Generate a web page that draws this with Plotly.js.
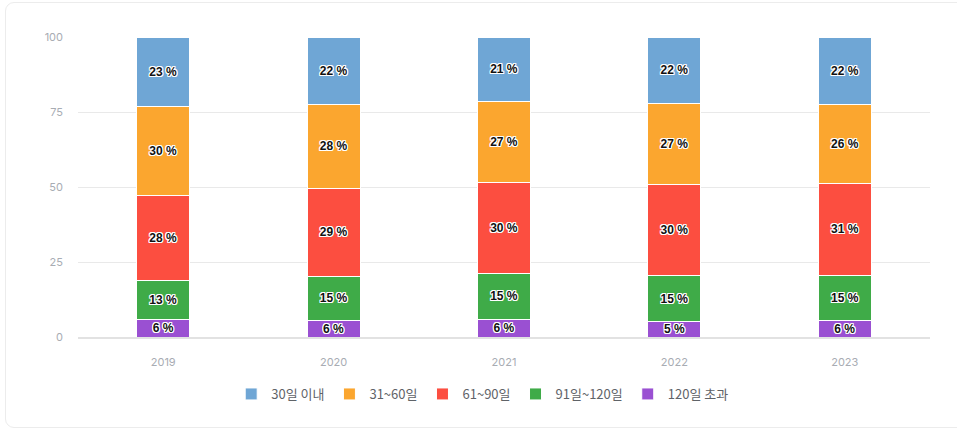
<!DOCTYPE html>
<html>
<head>
<meta charset="utf-8">
<script src="https://cdn.plot.ly/plotly-3.0.1.min.js"></script>
<style>
  html, body { margin: 0; padding: 0; background: #fff; }
  #wrap { position: relative; width: 957px; height: 430px; overflow: hidden; background: #fff; }
  #card { position: absolute; left: 5px; top: 2px; width: 970px; height: 426px; border: 1px solid #ececec; border-radius: 9px; box-sizing: border-box; }
  #chart { position: absolute; left: 0; top: 0; width: 957px; height: 430px; }
</style>
</head>
<body>
<div id="wrap">
  <div id="card"></div>
  <div id="chart"></div>
</div>
<script>
// Data (percent shares, bottom to top of each stack)
const years = ['2019', '2020', '2021', '2022', '2023'];
const seriesNames = ['120일 초과', '91일~120일', '61~90일', '31~60일', '30일 이내'];
const over120   = [5.8, 5.6, 6.0, 5.2, 5.5];
const d91to120  = [13.2, 14.6, 15.1, 15.2, 15.1];
const d61to90   = [28.2, 29.3, 30.4, 30.4, 30.6];
const d31to60   = [29.6, 28.1, 27.1, 26.9, 26.4];
const within30  = [23.2, 22.4, 21.4, 22.3, 22.4];
const yTicks = [0, 25, 50, 75, 100];

const seriesValues = [over120, d91to120, d61to90, d31to60, within30];
const colors = ['#9a50d2', '#3fab48', '#fc4e40', '#fba62f', '#6fa6d5'];
const ranks = [5, 4, 3, 2, 1];

const traces = seriesValues.map((vals, i) => ({
  type: 'bar',
  name: seriesNames[i],
  x: years,
  y: vals,
  legendrank: ranks[i],
  marker: { color: colors[i], line: { color: '#ffffff', width: 1 } },
  texttemplate: '%{y:.0f} %',
  textposition: 'inside',
  insidetextanchor: 'middle',
  constraintext: 'none',
  textangle: 0,
  textfont: {
    family: 'Liberation Sans, Arial, sans-serif',
    size: 12,
    color: '#111111',
    weight: 'bold',
    shadow: '1px 1px 0 #fff, -1px -1px 0 #fff, 1px -1px 0 #fff, -1px 1px 0 #fff, 0 1px 0 #fff, 0 -1px 0 #fff, 1px 0 0 #fff, -1px 0 0 #fff'
  },
  hoverinfo: 'x+y+name'
}));

const layout = {
  width: 957,
  height: 430,
  paper_bgcolor: 'rgba(0,0,0,0)',
  plot_bgcolor: 'rgba(0,0,0,0)',
  margin: { l: 78, r: 27, t: 37, b: 93 },
  barmode: 'stack',
  bargap: 0.69,
  font: { family: 'Inter, Roboto, "Noto Sans CJK KR", sans-serif', size: 11, color: '#a8acb3' },
  xaxis: {
    type: 'category',
    showgrid: false,
    showline: true,
    linecolor: '#e2e2e2',
    linewidth: 1.5,
    ticks: '',
    ticklabelstandoff: 14,
    tickfont: { size: 11, color: '#a8acb3' },
    fixedrange: true
  },
  yaxis: {
    range: [0, 100],
    tickvals: yTicks,
    ticktext: yTicks.map(String),
    showgrid: true,
    gridcolor: '#e9e9e9',
    gridwidth: 1,
    zeroline: false,
    showline: false,
    ticks: '',
    ticklabelstandoff: 14,
    tickfont: { size: 11, color: '#a8acb3' },
    fixedrange: true
  },
  showlegend: true,
  legend: {
    orientation: 'h',
    x: 0.475,
    xanchor: 'center',
    y: -0.14,
    yanchor: 'top',
    font: { family: '"Noto Sans CJK KR", "Noto Sans", sans-serif', size: 13, color: '#5f6368' },
    itemwidth: 30,
    traceorder: 'normal'
  }
};

Plotly.newPlot('chart', traces, layout, { displayModeBar: false, staticPlot: true });
</script>
</body>
</html>
